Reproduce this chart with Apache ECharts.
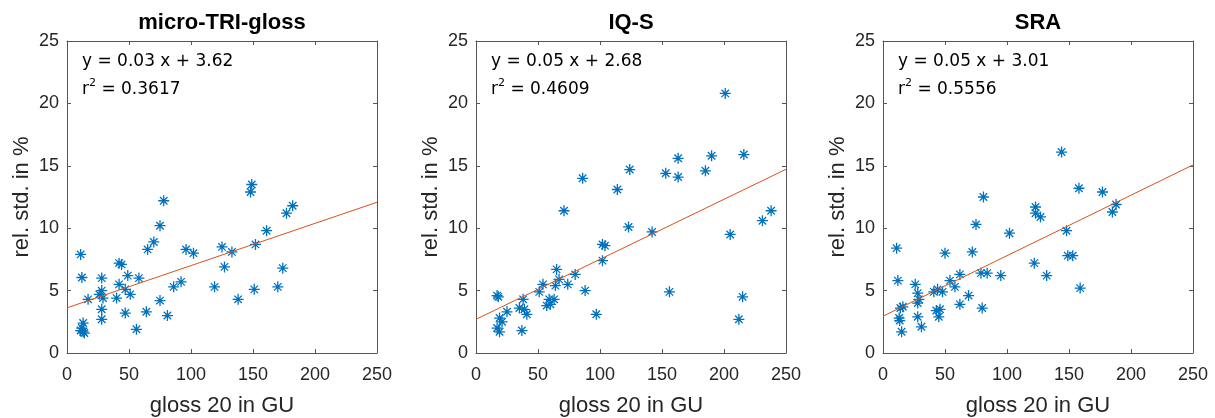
<!DOCTYPE html>
<html><head><meta charset="utf-8">
<script src="https://cdn.jsdelivr.net/npm/echarts@6/dist/echarts.min.js"></script>
<style>html,body{margin:0;padding:0;background:#fff}#c{width:1215px;height:418px}</style>
</head><body><div id="c"></div>
<script>
const titles = ['micro-TRI-gloss', 'IQ-S', 'SRA'];
const eqTexts = ['y = 0.03 x + 3.62', 'y = 0.05 x + 2.68', 'y = 0.05 x + 3.01'];
const r2Values = ['0.3617', '0.4609', '0.5556'];
const xTicks = [0, 50, 100, 150, 200, 250];
const yTicks = [0, 5, 10, 15, 20, 25];

const p1x = [11,12,17,13,11,14,12,13,28,28,26,29,28,28,40,42,42,44,49,47,51,58,47,56,64,65,70,75,78,75,81,86,92,96,102,119,125,127,133,138,149,148,152,151,161,170,174,177,182];
const p1y = [7.9,6.05,4.3,2.4,1.8,1.6,2.0,1.7,6.0,5.0,4.7,4.4,3.5,2.7,4.4,5.5,7.2,7.1,6.2,5.1,4.7,6.0,3.2,1.9,3.3,8.3,8.9,10.2,12.2,4.2,3.0,5.3,5.7,8.3,8.0,5.3,8.5,6.9,8.1,4.3,13.5,12.9,8.7,5.1,9.8,5.3,6.8,11.2,11.8];

const p2x = [17,18,19,17,19,21,25,35,38,39,41,37,51,54,57,59,60,63,64,65,67,74,80,71,86,88,97,102,102,104,114,123,124,142,156,153,163,163,185,190,201,205,216,215,212,231,238];
const p2y = [4.6,4.5,2.8,2.0,1.7,2.5,3.3,3.6,4.3,3.5,3.1,1.8,4.9,5.5,3.8,4.3,3.9,4.3,5.4,6.7,5.9,5.5,6.3,11.4,14.0,5.0,3.1,7.4,8.7,8.6,13.1,10.1,14.7,9.7,4.9,14.4,15.6,14.1,14.6,15.8,20.8,9.5,15.9,4.5,2.7,10.6,11.4];

const p3x = [11,12,16,14,13,13.5,15,26,28,29,28,28,31,41,44,48,43,46,45,50,54,58,62,62,69,72,75,79,84,81,80,95,102,122,123,123,127,132,144,148,149,153,158,159,177,185,188];
const p3y = [8.4,5.8,3.7,3.6,2.8,2.6,1.7,5.5,4.8,4.3,4.0,2.9,2.1,4.9,5.1,4.9,3.4,3.5,2.9,8.0,5.8,5.3,6.3,3.9,4.6,8.1,10.3,6.4,6.4,12.5,3.6,6.2,9.6,7.2,11.7,11.2,10.9,6.2,16.1,9.8,7.8,7.8,13.2,5.2,12.9,11.3,11.9];

// fitted lines as drawn: [x0, y0, x1, y1]
const fit1 = [0, 3.62, 250, 12.08];
const fit2 = [0, 2.70, 250, 14.72];
const fit3 = [0, 2.95, 250, 15.07];

const px = [p1x, p2x, p3x], py = [p1y, p2y, p3y], fits = [fit1, fit2, fit3];
const lefts = [67, 476, 883];
const W = 310, TOP = 41, H = 312;
const axisColor = '#555555';
const textColor = '#262626';
const star = 'path://M0 5 L10 5 M5 0 L5 10 M1.6 1.6 L8.4 8.4 M8.4 1.6 L1.6 8.4';

const grids = [], xAxes = [], yAxes = [], series = [], graphic = [];
for (let i = 0; i < 3; i++) {
  grids.push({left: lefts[i], top: TOP, width: W, height: H, show: false, containLabel: false, outerBoundsMode: 'none'});
  const xb = {gridIndex: i, type: 'value', min: xTicks[0], max: xTicks[xTicks.length-1], interval: 50,
    axisLine: {show: true, onZero: false, lineStyle: {color: axisColor, width: 1}},
    axisTick: {show: true, inside: true, length: 4, lineStyle: {color: axisColor}},
    splitLine: {show: false}};
  xAxes.push(Object.assign({}, xb, {position: 'bottom', name: 'gloss 20 in GU', nameLocation: 'middle', nameGap: 42,
    nameTextStyle: {fontFamily: 'Liberation Sans', fontSize: 22, color: textColor},
    axisLabel: {show: true, margin: 13, fontFamily: 'Liberation Sans', fontSize: 18, color: textColor}}));
  xAxes.push(Object.assign({}, xb, {position: 'top', axisLabel: {show: false}}));
  const yb = {gridIndex: i, type: 'value', min: yTicks[0], max: yTicks[yTicks.length-1], interval: 5,
    axisLine: {show: true, onZero: false, lineStyle: {color: axisColor, width: 1}},
    axisTick: {show: true, inside: true, length: 4, lineStyle: {color: axisColor}},
    splitLine: {show: false}};
  yAxes.push(Object.assign({}, yb, {position: 'left', name: 'rel. std. in %', nameLocation: 'middle', nameGap: 34,
    nameTextStyle: {fontFamily: 'Liberation Sans', fontSize: 22, color: textColor},
    axisLabel: {show: true, margin: 8, fontFamily: 'Liberation Sans', fontSize: 18, color: textColor}}));
  yAxes.push(Object.assign({}, yb, {position: 'right', axisLabel: {show: false}}));

  const pts = px[i].map((x, k) => [x, py[i][k]]);
  series.push({type: 'scatter', xAxisIndex: 2*i, yAxisIndex: 2*i, data: pts, symbol: star, symbolSize: 11,
    itemStyle: {color: 'none', borderColor: '#0072BD', borderWidth: 1.3, opacity: 1}, emphasis: {disabled: true}, z: 3});
  const f = fits[i];
  series.push({type: 'line', xAxisIndex: 2*i, yAxisIndex: 2*i, data: [[f[0], f[1]], [f[2], f[3]]], symbol: 'none',
    lineStyle: {color: '#D95319', width: 1}, z: 4, silent: true});

  graphic.push({type: 'text', x: lefts[i] + W/2, y: 23, style: {text: titles[i], fontFamily: 'Liberation Sans', fontWeight: 'bold', fontSize: 22, fill: '#000', textAlign: 'center', textVerticalAlign: 'middle'}});
  graphic.push({type: 'text', x: lefts[i] + 15, y: 62, style: {text: eqTexts[i], fontFamily: 'DejaVu Sans', fontSize: 17, fill: '#000', textAlign: 'left', textVerticalAlign: 'middle'}, z: 10});
  graphic.push({type: 'text', x: lefts[i] + 15, y: 88, style: {
    text: '{a|r}{s|2}{a| = ' + r2Values[i] + '}',
    rich: {a: {fontFamily: 'DejaVu Sans', fontSize: 17, fill: '#000', color: '#000', verticalAlign: 'bottom', lineHeight: 20},
           s: {fontFamily: 'DejaVu Sans', fontSize: 11, fill: '#000', color: '#000', verticalAlign: 'top', lineHeight: 20, padding: [0, 0, 6, 0]}},
    textAlign: 'left', textVerticalAlign: 'middle'}, z: 10});
}

const chart = echarts.init(document.getElementById('c'), null, {renderer: 'canvas'});
chart.setOption({animation: false, backgroundColor: '#fff', grid: grids, xAxis: xAxes, yAxis: yAxes, series: series, graphic: graphic});
</script></body></html>
